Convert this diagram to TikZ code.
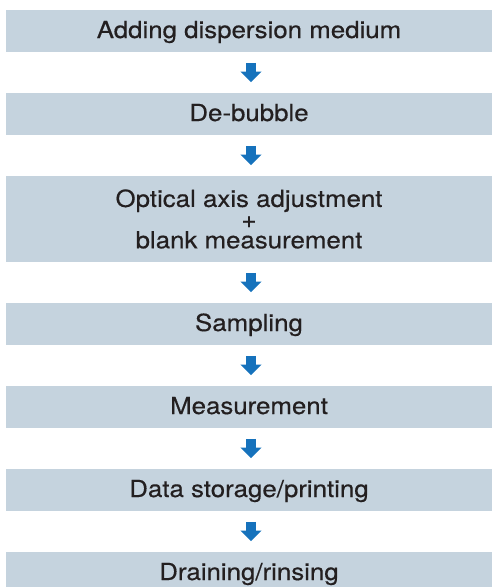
\documentclass[tikz,border=0pt]{standalone}
\usepackage{fontspec}
\setmainfont{TeX Gyre Heros}[FakeStretch=1.1, FakeBold=0.4]
\usetikzlibrary{arrows.meta}
\definecolor{boxfill}{HTML}{C5D3DE}
\definecolor{arrblue}{HTML}{1672BC}
\definecolor{txt}{HTML}{231F20}
\tikzset{
  stepbox/.style={rectangle, fill=boxfill, minimum width=486pt, minimum height=42pt,
    inner sep=0pt, text=txt, font=\fontsize{23.5}{20.7}\selectfont, align=center},
  onebox/.style={stepbox, text height=18pt, text depth=4pt},
  flowarrow/.style={draw=arrblue, line width=10pt, shorten <=10.7pt, shorten >=10.7pt,
    -{Triangle[width=20.5pt,length=10.6pt]}}
}
\begin{document}
\begin{tikzpicture}[x=1pt,y=-1pt]
\useasboundingbox (0,0) rectangle (492,587);
\clip (0,0) rectangle (492,587);
\node[onebox] (s1) at (249,31) {Adding dispersion medium};
\node[onebox] (s2) at (249,114) {De-bubble};
\node[stepbox, minimum height=86pt] (s3) at (249,219) {Optical axis adjustment\\+\\blank measurement};
\node[onebox] (s4) at (249,324) {Sampling};
\node[onebox] (s5) at (249,407) {Measurement};
\node[onebox] (s6) at (249,490) {Data storage/printing};
\node[onebox] (s7) at (249,573) {Draining/rinsing};
\foreach \a/\b in {s1/s2, s2/s3, s3/s4, s4/s5, s5/s6, s6/s7}
  \draw[flowarrow] ([xshift=2pt]\a.south) -- ([xshift=2pt]\b.north);
\end{tikzpicture}
\end{document}
